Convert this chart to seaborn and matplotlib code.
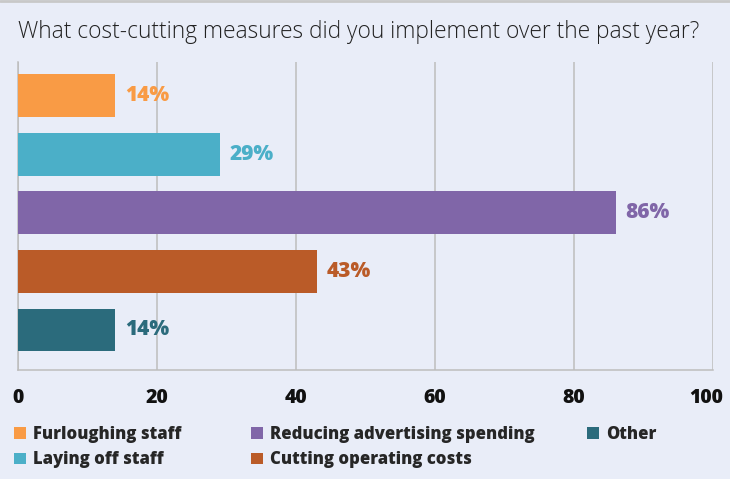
import matplotlib
matplotlib.use("Agg")
import matplotlib.pyplot as plt
import matplotlib.transforms as mtransforms
from matplotlib.patches import Patch
import seaborn as sns
import pandas as pd

categories = ["Furloughing staff", "Laying off staff", "Reducing advertising spending",
              "Cutting operating costs", "Other"]
values = [14, 29, 86, 43, 14]
colors = ["#F99B45", "#4BAFC8", "#8066A8", "#BA5B28", "#2B6B7C"]
x_ticks = [0, 20, 40, 60, 80, 100]
title = "What cost-cutting measures did you implement over the past year?"

bg = "#E9EDF8"
W, H = 730, 479
sns.set_theme(style="white")
plt.rcParams["font.family"] = ["Open Sans", "DejaVu Sans"]

fig = plt.figure(figsize=(W / 100, H / 100), dpi=100, facecolor=bg)
ax = fig.add_axes([18 / W, 1 - 370 / H, (713 - 18) / W, (370 - 62) / H])
ax.set_facecolor(bg)

df = pd.DataFrame({"measure": categories, "pct": values})
sns.barplot(data=df, x="pct", y="measure", hue="measure", palette=colors,
            order=categories, hue_order=categories, width=0.73, legend=False,
            ax=ax, saturation=1, linewidth=0, zorder=3)

ax.set_xlim(0, 100)
ax.set_ylim(4.683, -0.572)
ax.set_xticks(x_ticks)
ax.set_xticklabels([str(t) for t in x_ticks], fontsize=14, fontweight="heavy", color="#111111")
ax.set_yticks([])
ax.set_xlabel("")
ax.set_ylabel("")
ax.tick_params(axis="x", length=0, pad=13)
# keep the last tick label inside the figure edge
last = ax.get_xticklabels()[-1]
last.set_transform(last.get_transform() +
                   mtransforms.ScaledTranslation(-7 / 100, 0, fig.dpi_scale_trans))
ax.grid(axis="x", color="#BDBDBD", linewidth=1.1, zorder=0)
for side in ["top", "right"]:
    ax.spines[side].set_visible(False)
for side in ["left", "bottom"]:
    ax.spines[side].set_color("#BDBDBD")
    ax.spines[side].set_linewidth(1.1)
    ax.spines[side].set_zorder(1)

for i, (v, c) in enumerate(zip(values, colors)):
    ax.annotate(f"{v}%", xy=(v, i), xytext=(10, 0), textcoords="offset pixels",
                ha="left", va="center", fontsize=15, fontweight="heavy", color=c, zorder=5)

fig.text(18 / W, 1 - 32 / H, title, fontsize=16.4, fontweight="light",
         color="#222222", ha="left", va="center")

# top border line
fig.add_artist(plt.Line2D([0, 1], [1 - 1 / H, 1 - 1 / H], color="#C8C8C8", linewidth=2,
                          transform=fig.transFigure))

# legend laid out in three columns
columns = [[0, 1], [2, 3], [4]]
col_x = [14, 251, 587]
for idx, cx in zip(columns, col_x):
    handles = [Patch(facecolor=colors[i], edgecolor="none", label=categories[i]) for i in idx]
    fig.legend(handles=handles, loc="upper left",
               bbox_to_anchor=(cx / W, 1 - 426 / H), frameon=False,
               handlelength=0.7, handleheight=0.7, handletextpad=0.45,
               labelspacing=0.5, borderpad=0, borderaxespad=0,
               prop={"weight": "heavy", "size": 12})

fig.savefig("out.png", dpi=100, facecolor=bg)
